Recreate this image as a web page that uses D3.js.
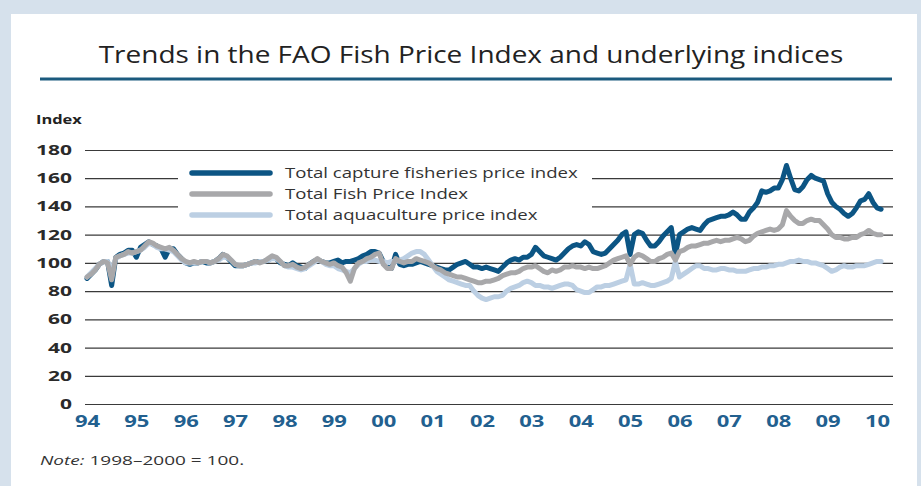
<!DOCTYPE html>
<html><head><meta charset="utf-8">
<script src="https://cdn.jsdelivr.net/npm/d3@7"></script>
<style>
html,body{margin:0;padding:0;background:#d6e1ec;}
svg{display:block;}
</style></head><body>
<svg id="chart" width="921" height="486"></svg>
<script>
// ---- data (monthly, Jan 1994 .. Feb 2010) ----
const startYear = 1994;
const yearTicks = [1994,1995,1996,1997,1998,1999,2000,2001,2002,2003,2004,2005,2006,2007,2008,2009,2010];
const yTicks = [0,20,40,60,80,100,120,140,160,180];
const seriesNames = ["Total capture fisheries price index","Total Fish Price Index","Total aquaculture price index"];

const capture = [
 89,92,95,99,101,101,84,104,106,107,109,109,
 104,111,113,115,113,112,110,104,110,110,106,103,
 100,99,100,100,101,100,100,101,103,106,104,101,
 98,98,98,99,100,101,101,101,102,104,103,100,
 99,98,100,98,97,96,99,101,102,101,100,100,
 101,102,100,101,101,102,103,105,106,108,108,107,
 101,97,96,106,99,98,99,99,100,101,100,99,
 98,97,96,95,95,97,99,100,101,99,97,97,
 96,97,96,95,94,97,100,102,103,102,104,104,
 106,111,108,105,104,103,102,104,107,110,112,113,
 112,115,113,108,107,106,107,110,113,116,120,122,
 106,120,122,121,116,112,112,115,119,122,125,106,
 120,122,124,125,124,123,127,130,131,132,133,133,
 134,136,134,131,131,136,139,143,151,150,151,153,
 153,159,169,160,152,151,154,159,162,160,159,158,
 149,143,140,138,135,133,135,139,144,145,149,143,
 139,138];

const fish = [
 90,92,95,99,101,100,88,104,105,106,108,107,
 108,109,112,115,114,112,111,110,111,109,106,103,
 101,100,101,100,101,101,100,101,103,106,105,102,
 99,98,98,99,100,101,100,101,103,105,104,101,
 98,98,99,97,96,97,99,101,103,101,100,99,
 100,98,97,93,87,96,100,101,103,104,106,107,
 99,96,96,103,101,100,101,101,103,102,101,100,
 98,96,95,93,92,91,90,90,89,88,87,86,
 86,87,87,88,89,91,92,93,93,94,96,97,
 97,98,96,94,93,95,94,95,97,97,98,97,
 97,96,97,96,96,97,98,100,102,103,104,105,
 99,104,106,105,103,101,101,103,104,106,107,102,
 108,109,111,112,112,113,114,114,115,116,115,116,
 116,117,118,117,115,116,119,121,122,123,124,123,
 124,127,137,133,130,128,128,130,131,130,130,127,
 124,120,118,118,117,117,118,118,120,121,123,121,
 120,120];

const aquaculture = [
 90,93,96,99,101,101,95,103,105,106,107,107,
 108,109,111,114,113,111,110,110,109,108,105,102,
 100,100,100,100,101,101,100,101,102,104,104,102,
 99,98,98,99,100,100,101,101,102,103,103,101,
 98,97,97,96,95,96,98,100,102,101,99,98,
 98,96,95,94,93,96,99,101,101,102,102,101,
 101,100,101,101,102,103,105,107,108,108,106,102,
 98,94,92,90,88,87,86,85,84,84,80,77,
 75,74,75,76,76,77,80,82,83,84,86,87,
 86,84,84,83,83,82,83,84,85,85,84,81,
 80,79,79,81,83,83,84,84,85,86,87,88,
 99,85,85,86,85,84,84,85,86,87,89,101,
 90,92,94,96,98,98,96,96,95,95,96,96,
 95,95,94,94,94,95,96,96,97,97,98,98,
 99,99,100,101,101,102,101,101,100,100,99,98,
 96,94,95,97,98,97,97,98,98,98,99,100,
 101,101];

const colors = ["#0c5584","#a8a8aa","#bccfe3"];
const FONT = "'Open Sans','Noto Sans',sans-serif";

// ---- drawing ----
const svg = d3.select("#chart");
svg.append("rect").attr("x",11).attr("y",14).attr("width",906).attr("height",472).attr("fill","#ffffff");

// helper: horizontally stretched text
function stext(g, x, y, sx, txt, size, opts = {}) {
  const t = g.append("text")
    .attr("transform", `translate(${x},${y}) scale(${sx},1)`)
    .attr("font-family", FONT).attr("font-size", size)
    .attr("fill", opts.fill || "#222")
    .attr("font-weight", opts.weight || 400)
    .attr("text-anchor", opts.anchor || "start");
  if (txt !== null) t.text(txt);
  return t;
}

// title
stext(svg, 471, 63, 1.216, "Trends in the FAO Fish Price Index and underlying indices", 23, {anchor:"middle", fill:"#222"});
svg.append("line").attr("x1",40).attr("x2",892).attr("y1",79).attr("y2",79)
  .attr("stroke","#1b5a7e").attr("stroke-width",3);

stext(svg, 36, 124, 1.37, "Index", 12, {weight:700});

const x = d3.scaleLinear().domain([1994,2010]).range([87,877]);
const y = d3.scaleLinear().domain([0,180]).range([404,150]);

// y axis with gridlines
const ysx = 1.5;
const gy = svg.append("g").attr("transform","translate(85,0)")
  .call(d3.axisLeft(y).tickValues(yTicks).tickSize(-808).tickPadding(13));
gy.select(".domain").remove();
gy.selectAll(".tick line").attr("stroke","#3a3a3a").attr("stroke-width",1.2);
gy.selectAll(".tick text").attr("font-family",FONT)
  .attr("font-size",14).attr("font-weight",700).attr("fill","#2a2a2a")
  .attr("x", -13/ysx).attr("transform",`scale(${ysx},1)`);

// x axis labels
const xsx = 1.42;
const gx = svg.append("g").attr("transform","translate(0,404)")
  .call(d3.axisBottom(x).tickValues(yearTicks).tickSize(0).tickPadding(12)
    .tickFormat(d => String(d).slice(2)));
gx.select(".domain").remove();
gx.selectAll(".tick text").attr("font-family",FONT)
  .attr("font-size",15.5).attr("font-weight",700).attr("fill","#22608f")
  .attr("transform",`scale(${xsx},1)`);

// legend background
svg.append("rect").attr("x",178).attr("y",160).attr("width",414).attr("height",66).attr("fill","#fff");

// lines
const line = d3.line().x((d,i)=>x(startYear + i/12)).y(d=>y(d));
const order = [[capture,0],[aquaculture,2],[fish,1]];
order.forEach(([arr,ci])=>{
  svg.append("path").datum(arr).attr("d",line).attr("fill","none")
    .attr("stroke",colors[ci]).attr("stroke-width",5)
    .attr("stroke-linejoin","round").attr("stroke-linecap","round");
});

// legend
const lg = svg.append("g");
seriesNames.forEach((n,i)=>{
  const yy = 173 + i*21;
  lg.append("line").attr("x1",192).attr("x2",270).attr("y1",yy).attr("y2",yy)
    .attr("stroke",colors[i]).attr("stroke-width",5.5).attr("stroke-linecap","round");
  stext(lg, 285, yy+5, 1.24, n, 15, {fill:"#333"});
});

// note
const note = stext(svg, 40, 465, 1.52, null, 12.5, {fill:"#333"});
note.append("tspan").attr("font-style","italic").text("Note:");
note.append("tspan").text(" 1998\u20132000 = 100.");
</script>
</body></html>
